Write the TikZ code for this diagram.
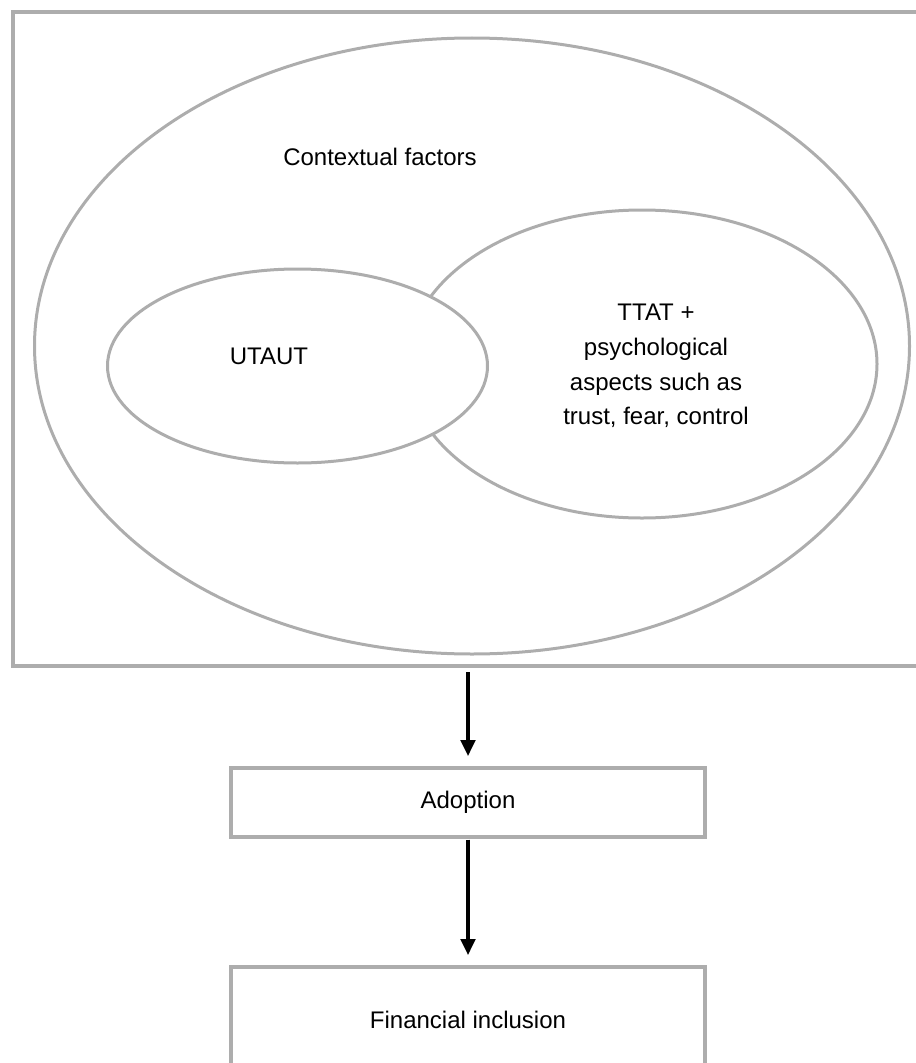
\documentclass[tikz,border=0pt]{standalone}
\usepackage{fontspec}
\setmainfont{Liberation Sans}
\usetikzlibrary{shapes.geometric,arrows.meta,fit}
\definecolor{framegray}{RGB}{173,173,173}
\tikzset{
  lbl/.style={font=\fontsize{18}{26}\selectfont, align=center, text=black},
  oval/.style={ellipse, draw=framegray, line width=2.25pt, inner sep=0pt},
  box/.style={rectangle, draw=framegray, line width=3pt, inner sep=0pt},
  flow/.style={line width=2.4pt, -{Triangle[width=11pt,length=12pt]}}
}
\begin{document}
\begin{tikzpicture}[x=0.75pt,y=-0.75pt]
  \path[use as bounding box] (0,0) rectangle (916,1063);
  \clip (0,0) rectangle (916,1063);

  % outer frame (continues past the right edge)
  \coordinate (fa) at (12.5,12.5);
  \coordinate (fb) at (935,666);
  \node[box, fit=(fa)(fb)] (frame) {};

  % context ellipse and the two inner models
  \node[oval, minimum width=656.25pt, minimum height=462pt] (context) at (472,346) {};
  \node[lbl] (ctxlabel) at (380,157) {Contextual factors};

  \node[oval, minimum width=352.5pt, minimum height=231pt] (ttat) at (642,364) {};
  \node[oval, fill=white, minimum width=285pt, minimum height=145.5pt] (utaut) at (297.5,366) {};
  \node[lbl] (utautlabel) at (269,356) {UTAUT};
  \node[lbl] (ttatlabel) at (656,366) {TTAT +\\psychological\\aspects such as\\trust, fear, control};

  % outcome boxes
  \node[box, lbl, minimum width=355.5pt, minimum height=51.75pt] (adopt) at (468,802.5) {Adoption};
  \node[box, lbl, minimum width=355.5pt, minimum height=79.5pt] (fin) at (468,1020) {Financial inclusion};

  % arrows
  \draw[flow, shorten <=3pt, shorten >=7.5pt] (adopt.north |- frame.south) -- (adopt.north);
  \draw[flow, shorten <=0.5pt, shorten >=7.5pt] (adopt.south) -- (fin.north);
\end{tikzpicture}
\end{document}
